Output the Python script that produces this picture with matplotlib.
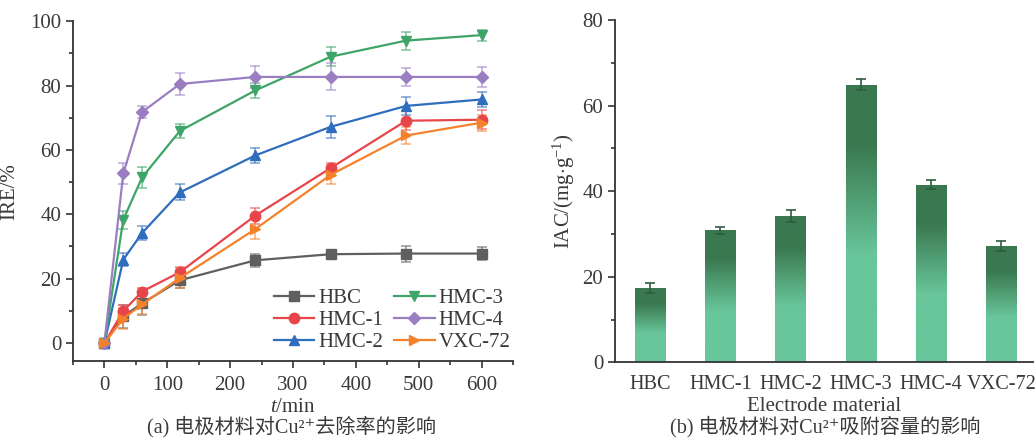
import numpy as np
import matplotlib
matplotlib.use('Agg')
import matplotlib.pyplot as plt
from matplotlib.ticker import MultipleLocator

plt.rcParams['font.family'] = ['Liberation Serif', 'DejaVu Serif', 'Noto Sans CJK SC']
plt.rcParams['mathtext.fontset'] = 'custom'
plt.rcParams['mathtext.rm'] = 'Liberation Serif'
plt.rcParams['mathtext.it'] = 'Liberation Serif:italic'
plt.rcParams['font.size'] = 15

TXT = '#3a3a3a'

# removal rate vs time
t_min = [0, 30, 60, 120, 240, 360, 480, 600]
hbc = [0, 8.3, 12.3, 19.5, 25.7, 27.6, 27.8, 27.8]
hbc_err = [0.8, 3.5, 3.5, 2.5, 2.0, 1.0, 2.5, 2.0]
hmc1 = [0, 9.9, 16.0, 22.0, 39.6, 54.4, 69.1, 69.4]
hmc1_err = [0.8, 2.0, 1.0, 1.5, 2.5, 1.5, 3.0, 3.0]
hmc2 = [0, 25.9, 34.2, 46.8, 58.3, 67.2, 73.7, 75.7]
hmc2_err = [0.8, 2.0, 2.3, 2.5, 2.3, 3.5, 2.7, 2.3]
hmc3 = [0, 38.3, 51.5, 65.9, 78.5, 89.0, 94.0, 95.7]
hmc3_err = [0.8, 2.8, 3.3, 2.2, 2.3, 3.0, 2.8, 1.7]
hmc4 = [0, 52.7, 71.8, 80.5, 82.7, 82.7, 82.7, 82.7]
hmc4_err = [0.8, 3.3, 2.0, 3.5, 3.3, 4.2, 2.8, 3.2]
vxc72 = [0, 7.6, 12.0, 20.2, 35.4, 52.3, 64.5, 68.5]
vxc72_err = [0.8, 3.3, 3.0, 3.0, 3.0, 3.0, 2.5, 2.5]

series_names = ['HBC', 'HMC-1', 'HMC-2', 'HMC-3', 'HMC-4', 'VXC-72']
series_vals = [hbc, hmc1, hmc2, hmc3, hmc4, vxc72]
series_errs = [hbc_err, hmc1_err, hmc2_err, hmc3_err, hmc4_err, vxc72_err]
colors = ['#5f5f5f', '#e8454b', '#2f6dbd', '#3fa468', '#9b7ec2', '#f5822b']
markers = ['s', 'o', '^', 'v', 'D', '>']
msizes = [7, 7.5, 7.5, 7.5, 6.5, 7.5]

# adsorption capacity per electrode
materials = ['HBC', 'HMC-1', 'HMC-2', 'HMC-3', 'HMC-4', 'VXC-72']
iac = [17.3, 30.9, 34.2, 64.9, 41.5, 27.2]
iac_err = [1.2, 0.8, 1.5, 1.3, 1.0, 1.1]

fig = plt.figure(figsize=(10.35, 4.38), dpi=100)
ax1 = fig.add_axes([0.0705, 0.1758, 0.4252, 0.7756])
ax2 = fig.add_axes([0.5942, 0.1728, 0.4038, 0.7815])

for ax in (ax1, ax2):
    for s in ('top', 'right'):
        ax.spines[s].set_visible(False)
    for s in ('left', 'bottom'):
        ax.spines[s].set_color('#333333')
        ax.spines[s].set_linewidth(1.3)
    ax.tick_params(which='both', direction='out', color='#333333', width=1.2,
                   labelcolor=TXT, labelsize=15)
    ax.tick_params(which='major', length=5)
    ax.tick_params(which='minor', length=3)
    ax.tick_params(axis='x', pad=6)

# (a) line chart
for name, v, e, c, m, ms in zip(series_names, series_vals, series_errs, colors, markers, msizes):
    ax1.errorbar(t_min, v, yerr=e, fmt='none', ecolor=c, alpha=0.6,
                 elinewidth=1.2, capsize=3.5, capthick=1.2, zorder=2)
    ax1.plot(t_min, v, color=c, marker=m, markersize=ms, linewidth=1.6,
             label=name, zorder=3)

ax1.set_xlim(-50, 650)
ax1.set_ylim(-5.6, 100)
ax1.xaxis.set_major_locator(MultipleLocator(100))
ax1.xaxis.set_minor_locator(MultipleLocator(50))
ax1.yaxis.set_major_locator(MultipleLocator(20))
ax1.yaxis.set_minor_locator(MultipleLocator(10))
ax1.set_xlabel('$t$/min', color=TXT, labelpad=2)
ax1.set_ylabel('IRE/%', color=TXT, labelpad=8)
ax1.legend(ncol=2, loc='lower right', bbox_to_anchor=(1.037, -0.03), frameon=False,
           fontsize=15, handlelength=1.95, columnspacing=0.5, labelspacing=0.12,
           handletextpad=0.2, labelcolor=TXT)

# (b) bar chart with vertical gradient fill
light = np.array(matplotlib.colors.to_rgb('#69c69b'))
dark = np.array(matplotlib.colors.to_rgb('#3a7850'))
frac = np.linspace(0, 1, 256)
w = np.clip((frac - 0.38) / (0.78 - 0.38), 0, 1)
grad = light[None, :] * (1 - w[:, None]) + dark[None, :] * w[:, None]
grad_img = grad[:, None, :]

x = np.arange(len(materials))
bars = ax2.bar(x, iac, width=0.43, color='none', edgecolor='none', zorder=2)
for b in bars:
    x0, y0 = b.get_x(), b.get_y()
    im = ax2.imshow(grad_img, extent=[x0, x0 + b.get_width(), y0, y0 + b.get_height()],
                    origin='lower', aspect='auto', zorder=2)
    im.set_clip_path(b)
ax2.errorbar(x, iac, yerr=iac_err, fmt='none', ecolor='#2e5c3e', elinewidth=1.2,
             capsize=3.5, capthick=1.2, zorder=3)

ax2.set_xlim(-0.5, 5.45)
ax2.set_ylim(0, 80)
ax2.set_xticks(x)
ax2.set_xticklabels(materials, fontsize=14.6)
ax2.tick_params(axis='x', length=0, pad=9)
ax2.yaxis.set_major_locator(MultipleLocator(20))
ax2.yaxis.set_minor_locator(MultipleLocator(10))
ax2.set_xlabel('Electrode material', color=TXT, labelpad=2)
ax2.set_ylabel(r'IAC/(mg$\cdot$g$^{-1}$)', color=TXT, labelpad=4)

fig.text(0.282, 0.026, '(a) 电极材料对Cu²⁺去除率的影响', ha='center', va='center',
         color=TXT, fontsize=14.5)
fig.text(0.797, 0.026, '(b) 电极材料对Cu²⁺吸附容量的影响', ha='center', va='center',
         color=TXT, fontsize=14.5)

fig.savefig('out.png', dpi=100)
